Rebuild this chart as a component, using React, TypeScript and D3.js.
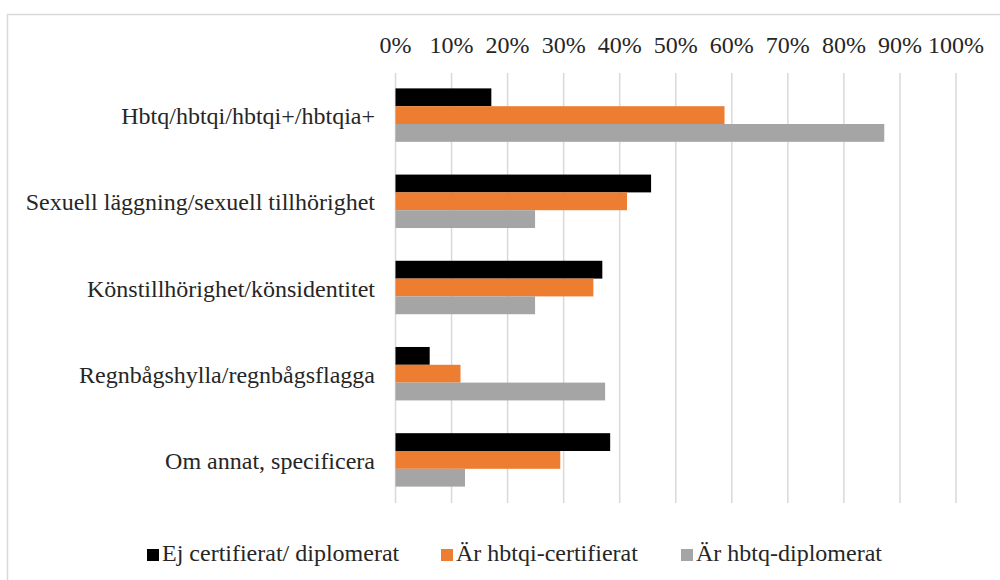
import * as d3 from 'd3';

const categories = [
  'Hbtq/hbtqi/hbtqi+/hbtqia+',
  'Sexuell läggning/sexuell tillhörighet',
  'Könstillhörighet/könsidentitet',
  'Regnbågshylla/regnbågsflagga',
  'Om annat, specificera',
];
const seriesNames = ['Ej certifierat/ diplomerat', 'Är hbtqi-certifierat', 'Är hbtq-diplomerat'];
const ejCertifierat = [0.171, 0.456, 0.369, 0.061, 0.383];
const hbtqiCertifierat = [0.587, 0.413, 0.353, 0.116, 0.294];
const hbtqDiplomerat = [0.872, 0.249, 0.249, 0.374, 0.124];
const tickValues = [0, 0.1, 0.2, 0.3, 0.4, 0.5, 0.6, 0.7, 0.8, 0.9, 1];
const colors = ['#000000', '#ED7D31', '#A5A5A5'];

const width = 1000;
const height = 580;
const fontStyle = { fontFamily: "'Liberation Serif', 'Times New Roman', serif", fontSize: 24 };
const textColor = '#262626';

const App = () => {
  const values = [ejCertifierat, hbtqiCertifierat, hbtqDiplomerat];

  const x = d3.scaleLinear().domain([0, 1]).range([395.5, 956]);
  const y0 = d3.scaleBand().domain(categories).range([72, 503])
    .paddingInner(0.38).paddingOuter(0.19);
  const y1 = d3.scaleBand().domain(seriesNames).range([0, y0.bandwidth()]);
  const pct = d3.format('.0%');

  // legend positions
  const legendX = [147, 441, 681];

  return (
    <svg width={width} height={height} style={{ position: 'absolute', left: 0, top: 0 }}>
      <rect x={0} y={0} width={width} height={height} fill="#ffffff" />
      {/* chart frame */}
      <rect x={7.5} y={14.5} width={1010} height={600} fill="none" stroke="#d9d9d9" strokeWidth={1.5} />

      {/* gridlines */}
      {tickValues.map(t => (
        <line key={'g' + t} x1={x(t)} x2={x(t)} y1={73} y2={503} stroke="#d9d9d9" strokeWidth={1.5} />
      ))}

      {/* tick labels on top */}
      {tickValues.map(t => (
        <text key={'t' + t} x={x(t)} y={53} textAnchor="middle" fill={textColor} style={fontStyle}>
          {pct(t)}
        </text>
      ))}

      {/* bars */}
      {seriesNames.map((s, si) => (
        <g key={s}>
          {categories.map((c, i) => (
            <rect
              key={c}
              x={x(0)}
              y={(y0(c) ?? 0) + (y1(s) ?? 0)}
              width={x(values[si][i]) - x(0)}
              height={y1.bandwidth()}
              fill={colors[si]}
            />
          ))}
        </g>
      ))}

      {/* category labels */}
      {categories.map(c => (
        <text
          key={'l' + c}
          x={375}
          y={(y0(c) ?? 0) + y0.bandwidth() / 2 + 9}
          textAnchor="end"
          fill={textColor}
          style={fontStyle}
        >
          {c}
        </text>
      ))}

      {/* legend */}
      {seriesNames.map((s, i) => (
        <g key={'lg' + s} transform={`translate(${legendX[i]}, 549)`}>
          <rect width={12} height={12} fill={colors[i]} />
          <text x={15} y={12} fill={textColor} style={fontStyle}>{s}</text>
        </g>
      ))}
    </svg>
  );
};

export default App;
